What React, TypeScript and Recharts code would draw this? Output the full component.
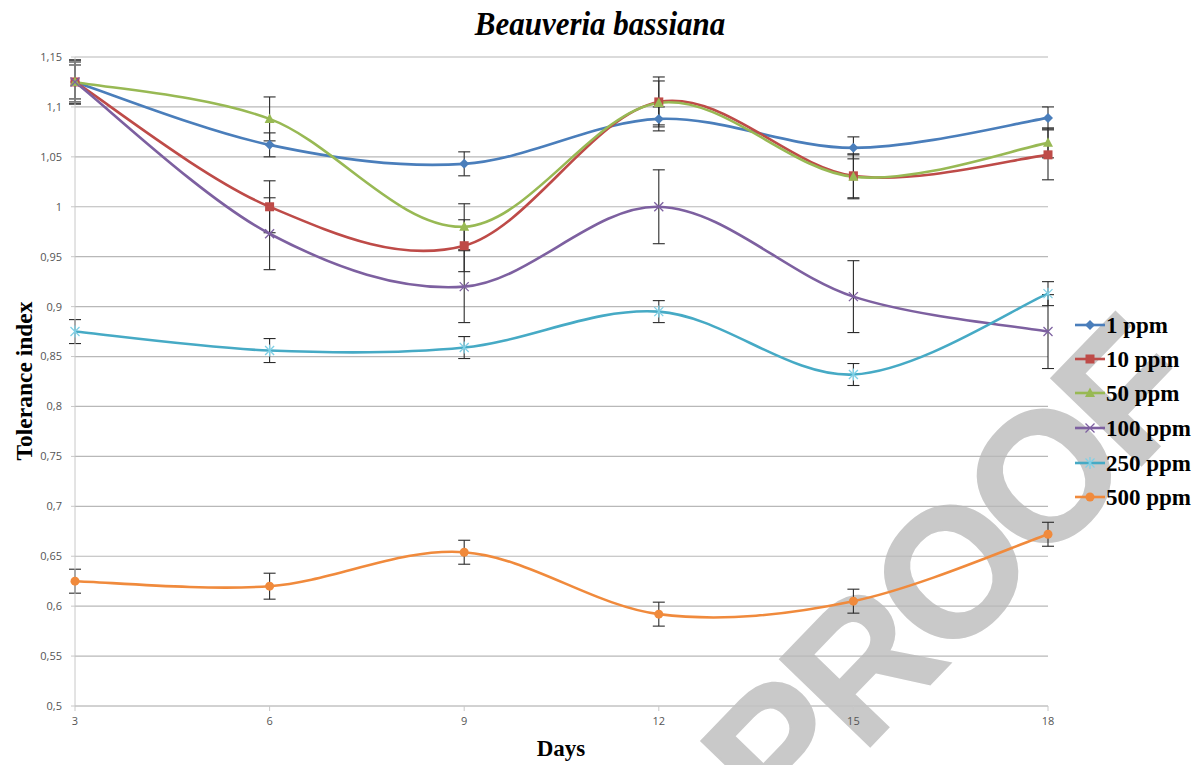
import React from 'react';
import { LineChart, Line, XAxis, YAxis, CartesianGrid, ErrorBar } from 'recharts';

const days = [3, 6, 9, 12, 15, 18];
const yTicks = [0.5, 0.55, 0.6, 0.65, 0.7, 0.75, 0.8, 0.85, 0.9, 0.95, 1, 1.05, 1.1, 1.15];
const seriesNames = ['1 ppm', '10 ppm', '50 ppm', '100 ppm', '250 ppm', '500 ppm'];
const seriesColors = ['#4A7EBB', '#BE4B48', '#98B954', '#7D60A0', '#46AAC5', '#F08A3C'];
const seriesShapes = ['diamond', 'square', 'triangle', 'x', 'star', 'circle'];

const ppm1 = [1.125, 1.062, 1.043, 1.088, 1.059, 1.089];
const ppm1Err = [0.017, 0.012, 0.012, 0.012, 0.011, 0.011];
const ppm10 = [1.125, 1.0, 0.961, 1.105, 1.031, 1.052];
const ppm10Err = [0.022, 0.026, 0.026, 0.025, 0.022, 0.025];
const ppm50 = [1.125, 1.088, 0.98, 1.104, 1.03, 1.064];
const ppm50Err = [0.02, 0.022, 0.023, 0.022, 0.022, 0.015];
const ppm100 = [1.125, 0.973, 0.92, 1.0, 0.91, 0.875];
const ppm100Err = [0.022, 0.036, 0.036, 0.037, 0.036, 0.037];
const ppm250 = [0.875, 0.856, 0.859, 0.895, 0.832, 0.913];
const ppm250Err = [0.012, 0.012, 0.011, 0.011, 0.011, 0.012];
const ppm500 = [0.625, 0.62, 0.654, 0.592, 0.605, 0.672];
const ppm500Err = [0.012, 0.013, 0.012, 0.012, 0.012, 0.012];

const values = [ppm1, ppm10, ppm50, ppm100, ppm250, ppm500];
const errors = [ppm1Err, ppm10Err, ppm50Err, ppm100Err, ppm250Err, ppm500Err];

const data = days.map((d, i) => {
  const row: Record<string, number> = { day: d };
  values.forEach((v, s) => {
    row['s' + s] = v[i];
    row['e' + s] = errors[s][i];
  });
  return row;
});

// Excel-like smoothed line (Catmull-Rom style Bezier)
const excelCurve: any = (context: any) => {
  let pts: [number, number][] = [];
  return {
    areaStart() {},
    areaEnd() {},
    lineStart() {
      pts = [];
    },
    point(x: number, y: number) {
      pts.push([+x, +y]);
    },
    lineEnd() {
      if (!pts.length) return;
      context.moveTo(pts[0][0], pts[0][1]);
      for (let i = 0; i < pts.length - 1; i++) {
        const p0 = pts[i - 1] || pts[i];
        const p1 = pts[i];
        const p2 = pts[i + 1];
        const p3 = pts[i + 2] || p2;
        const c1x = p1[0] + (p2[0] - p0[0]) / 6;
        const c1y = p1[1] + (p2[1] - p0[1]) / 6;
        const c2x = p2[0] - (p3[0] - p1[0]) / 6;
        const c2y = p2[1] - (p3[1] - p1[1]) / 6;
        context.bezierCurveTo(c1x, c1y, c2x, c2y, p2[0], p2[1]);
      }
    },
  };
};

const Marker = ({ shape, color, cx, cy }: { shape: string; color: string; cx: number; cy: number }) => {
  switch (shape) {
    case 'diamond':
      return <polygon points={`${cx},${cy - 5} ${cx + 5},${cy} ${cx},${cy + 5} ${cx - 5},${cy}`} fill={color} />;
    case 'square':
      return <rect x={cx - 4.5} y={cy - 4.5} width={9} height={9} fill={color} />;
    case 'triangle':
      return <polygon points={`${cx},${cy - 5.5} ${cx + 5},${cy + 4} ${cx - 5},${cy + 4}`} fill={color} />;
    case 'x':
      return (
        <g stroke={color} strokeWidth={1.3}>
          <line x1={cx - 4.5} y1={cy - 4.5} x2={cx + 4.5} y2={cy + 4.5} />
          <line x1={cx - 4.5} y1={cy + 4.5} x2={cx + 4.5} y2={cy - 4.5} />
        </g>
      );
    case 'star':
      return (
        <g stroke="#7FD0E6" strokeWidth={1.3}>
          <line x1={cx - 4.5} y1={cy - 4.5} x2={cx + 4.5} y2={cy + 4.5} />
          <line x1={cx - 4.5} y1={cy + 4.5} x2={cx + 4.5} y2={cy - 4.5} />
          <line x1={cx} y1={cy - 6} x2={cx} y2={cy + 6} />
        </g>
      );
    default:
      return <circle cx={cx} cy={cy} r={4.5} fill={color} />;
  }
};

const makeDot = (shape: string, color: string) => (props: any) => {
  const { cx, cy, index } = props;
  if (cx == null || cy == null) return <g key={'d' + index} />;
  return (
    <g key={'d' + index}>
      <Marker shape={shape} color={color} cx={cx} cy={cy} />
    </g>
  );
};

const fmt = (v: number) => {
  const r = Math.round(v * 100) / 100;
  return String(r).replace('.', ',');
};

const serif = '"Liberation Serif", "Times New Roman", "DejaVu Serif", serif';
const sans = '"Open Sans", "Noto Sans", "Liberation Sans", sans-serif';

const legendY = [325, 359, 393, 428, 463, 497];

export default function App() {
  return (
    <div style={{ position: 'absolute', left: 0, top: 0, width: 1202, height: 765, background: '#fff', overflow: 'hidden' }}>
      {/* watermark behind */}
      <svg width={1202} height={765} style={{ position: 'absolute', left: 0, top: 0 }}>
        <text
          x={947}
          y={573 + 0.358 * 182}
          textAnchor="middle"
          fontFamily='"Liberation Sans", Arial, sans-serif'
          fontWeight="bold"
          fontSize={182}
          letterSpacing={-8}
          fill="#c9c9c9"
          stroke="#c9c9c9"
          strokeWidth={2}
          transform="rotate(-46, 947, 573)"
        >
          PROOF
        </text>
      </svg>
      <div style={{ position: 'absolute', left: 0, top: 0 }}>
        <LineChart
          width={1202}
          height={765}
          data={data}
          margin={{ top: 57, right: 154, bottom: 29, left: 0 }}
        >
          <CartesianGrid vertical={false} stroke="#b8b8b8" strokeWidth={1.2} />
          <XAxis
            dataKey="day"
            type="number"
            domain={[3, 18]}
            ticks={days}
            height={30}
            stroke="#c8c8c8"
            tickSize={5}
            tickMargin={6}
            tick={{ fill: '#555', fontSize: 11, fontFamily: sans }}
          />
          <YAxis
            type="number"
            domain={[0.5, 1.15]}
            ticks={yTicks}
            allowDataOverflow
            width={75}
            stroke="#c8c8c8"
            tickSize={4}
            tickMargin={9}
            tickFormatter={fmt}
            tick={{ fill: '#555', fontSize: 11, fontFamily: sans }}
          />
          {seriesNames.map((name, s) => (
            <Line
              key={name}
              name={name}
              dataKey={'s' + s}
              type={excelCurve}
              stroke={seriesColors[s]}
              strokeWidth={2.6}
              dot={makeDot(seriesShapes[s], seriesColors[s])}
              activeDot={false}
              isAnimationActive={false}
            >
              <ErrorBar dataKey={'e' + s} width={6} stroke="#2b2b2b" strokeWidth={1.1} direction="y" />
            </Line>
          ))}
        </LineChart>
      </div>
      <svg width={1202} height={765} style={{ position: 'absolute', left: 0, top: 0, pointerEvents: 'none' }}>
        <text
          transform="translate(600, 35) scale(1, 1.12)"
          textAnchor="middle"
          fontFamily={serif}
          fontStyle="italic"
          fontWeight="bold"
          fontSize={31}
          fill="#000"
        >
          Beauveria bassiana
        </text>
        <text x={561} y={756} textAnchor="middle" fontFamily={serif} fontWeight="bold" fontSize={23} fill="#000">
          Days
        </text>
        <text
          transform="translate(32, 381) rotate(-90)"
          textAnchor="middle"
          fontFamily={serif}
          fontWeight="bold"
          fontSize={23.5}
          fill="#000"
        >
          Tolerance index
        </text>
        {seriesNames.map((name, s) => (
          <g key={name}>
            <line x1={1075} y1={legendY[s]} x2={1105} y2={legendY[s]} stroke={seriesColors[s]} strokeWidth={2.6} />
            <Marker shape={seriesShapes[s]} color={seriesColors[s]} cx={1090} cy={legendY[s]} />
            <text x={1106} y={legendY[s] + 8} fontFamily={serif} fontWeight="bold" fontSize={23} fill="#000">
              {name}
            </text>
          </g>
        ))}
      </svg>
    </div>
  );
}
